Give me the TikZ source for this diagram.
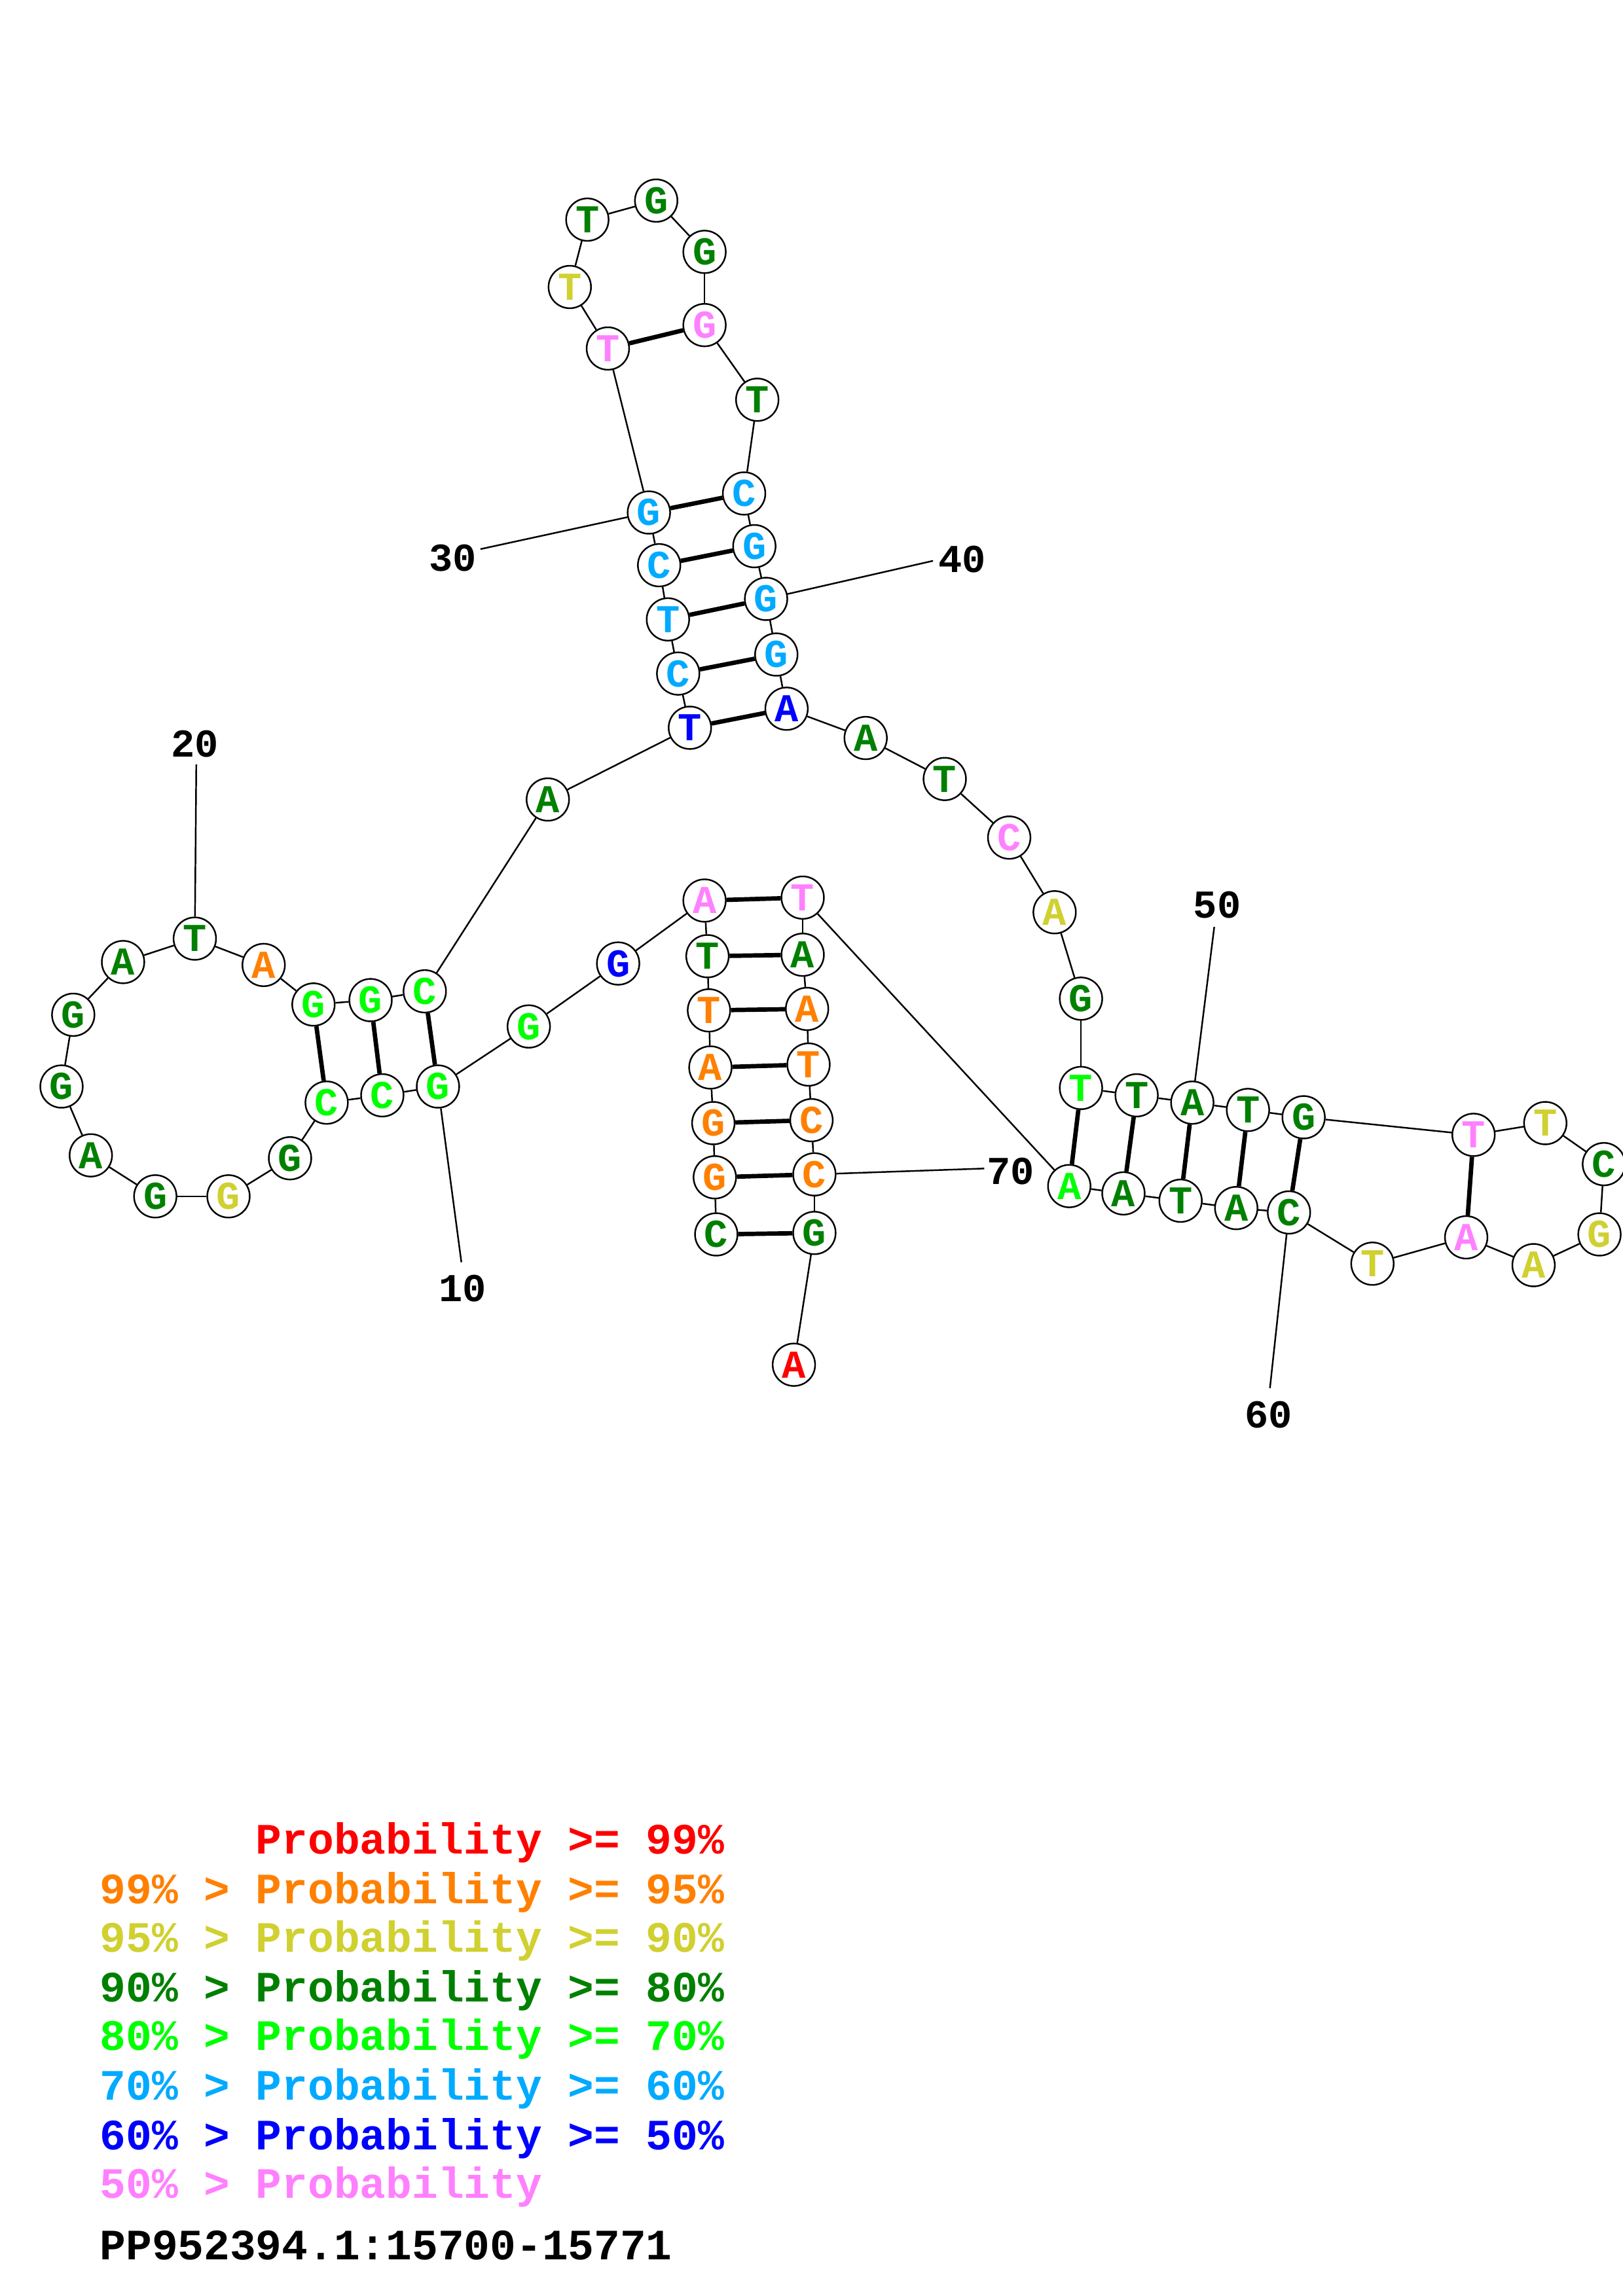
\documentclass[tikz,border=0pt]{standalone}
\usepackage{fontspec}
\newfontfamily\cour{Liberation Mono}
\definecolor{pR}{RGB}{255,0,0}
\definecolor{pO}{RGB}{255,128,0}
\definecolor{pY}{RGB}{208,208,48}
\definecolor{pDG}{RGB}{0,128,0}
\definecolor{pLG}{RGB}{0,255,0}
\definecolor{pLB}{RGB}{0,170,255}
\definecolor{pB}{RGB}{0,0,255}
\definecolor{pP}{RGB}{255,128,255}
\begin{document}
\begin{tikzpicture}[x=1pt,y=-1pt,
  nt/.style={circle, draw=black, line width=1.1pt, fill=white, minimum size=29pt, inner sep=0pt,
    font=\cour\bfseries\fontsize{27}{27}\selectfont},
  bb/.style={line width=1.1pt},
  pr/.style={line width=3pt},
  numl/.style={font=\cour\bfseries\fontsize{27}{27}\selectfont, inner sep=1pt, fill=white},
  leg/.style={font=\cour\bfseries\fontsize{29.6}{30}\selectfont, inner sep=0pt, anchor=base west}]
\useasboundingbox (0,0) rectangle (1108,1568);
\fill[white] (0,0) rectangle (1108,1568);
% nucleotides
\foreach \i/\x/\y/\b/\c in {
 1/489/843/C/pDG, 2/488/804/G/pO, 3/487/767/G/pO, 4/485/729/A/pO, 5/484/690/T/pO,
 6/483/653/T/pDG, 7/481/615/A/pP, 8/422/658/G/pB, 9/361/701/G/pLG, 10/299/742/G/pLG,
 11/261/748/C/pLG, 12/223/753/C/pLG, 13/198/791/G/pDG, 14/156/817/G/pY, 15/106/817/G/pDG,
 16/62/789/A/pDG, 17/42/742/G/pDG, 18/50/693/G/pDG, 19/84/657/A/pDG, 20/133/641/T/pDG,
 21/180/659/A/pO, 22/214/686/G/pLG, 23/253/683/G/pLG, 24/290/677/C/pLG, 25/374/546/A/pDG,
 26/471/497/T/pB, 27/463/460/C/pLB, 28/456/423/T/pLB, 29/450/386/C/pLB, 30/443/350/G/pLB,
 31/415/238/T/pP, 32/389/196/T/pY, 33/401/150/T/pDG, 34/448/137/G/pDG, 35/481/172/G/pDG,
 36/481/222/G/pP, 37/517/273/T/pDG, 38/508/337/C/pLB, 39/515/373/G/pLB, 40/523/409/G/pLB,
 41/530/447/G/pLB, 42/537/484/A/pB, 43/591/504/A/pDG, 44/645/532/T/pDG, 45/689/572/C/pP,
 46/720/623/A/pY, 47/738/682/G/pDG, 48/738/743/T/pLG, 49/776/748/T/pDG, 50/814/753/A/pDG,
 51/852/758/T/pDG, 52/890/763/G/pDG, 53/1006/775/T/pP, 54/1055/767/T/pY, 55/1095/795/C/pDG,
 56/1092/843/G/pY, 57/1047/864/A/pY, 58/1001/845/A/pP, 59/937/863/T/pY, 60/880/828/C/pDG,
 61/844/825/A/pDG, 62/806/820/T/pDG, 63/767/815/A/pDG, 64/730/810/A/pLG, 65/548/613/T/pP,
 66/548/652/A/pDG, 67/551/689/A/pO, 68/552/727/T/pO, 69/554/765/C/pO, 70/556/802/C/pO,
 71/556/842/G/pDG, 72/542/932/A/pR}
 {\node[nt, text=\c] (n\i) at (\x,\y) {\b};}
% backbone
\foreach \i [evaluate=\i as \j using int(\i+1)] in {1,...,71}
 {\draw[bb] (n\i) -- (n\j);}
% base pairs
\foreach \a/\b in {1/71,2/70,3/69,4/68,5/67,6/66,7/65,10/24,11/23,12/22,
 26/42,27/41,28/40,29/39,30/38,31/36,48/64,49/63,50/62,51/61,52/60,53/58}
 {\draw[pr] (n\a) -- (n\b);}
% position labels
\foreach \k/\lx/\ly/\ex/\ey in {10/316/880/315/862, 20/133/508/134/522, 30/309/381/328/375,
 40/657/382/637/383, 50/831/618/829/633, 60/866/966/867/948, 70/690/800/672/798}
 {\node[numl] (l\k) at (\lx,\ly) {\k};
  \coordinate (e\k) at (\ex,\ey);
  \draw[bb] (n\k) -- (e\k);}
% legend
\node[leg, text=pR] (g1) at (174.5,1266) {Probability >= 99\%};
\node[leg, text=pO] (g2) at (68,1300) {99\% > Probability >= 95\%};
\node[leg, text=pY] (g3) at (68,1333) {95\% > Probability >= 90\%};
\node[leg, text=pDG] (g4) at (68,1367) {90\% > Probability >= 80\%};
\node[leg, text=pLG] (g5) at (68,1400) {80\% > Probability >= 70\%};
\node[leg, text=pLB] (g6) at (68,1434) {70\% > Probability >= 60\%};
\node[leg, text=pB] (g7) at (68,1468) {60\% > Probability >= 50\%};
\node[leg, text=pP] (g8) at (68,1501) {50\% > Probability};
\node[leg, text=black] (title) at (68,1543) {PP952394.1:15700-15771};
\end{tikzpicture}
\end{document}
